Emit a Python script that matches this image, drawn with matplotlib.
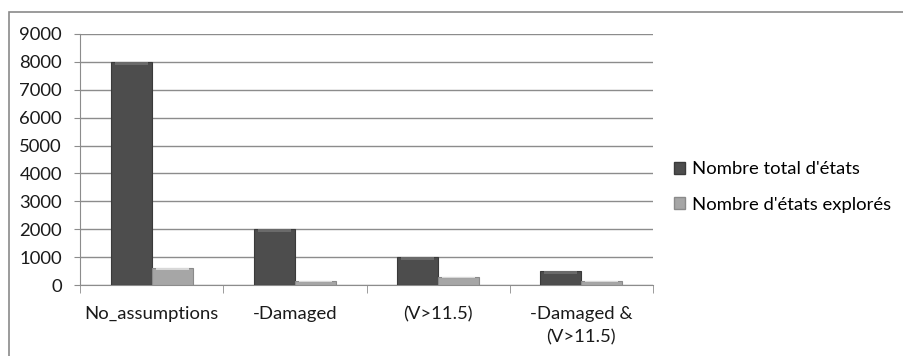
import matplotlib
matplotlib.use("Agg")
import matplotlib.pyplot as plt
from matplotlib.patches import Rectangle, Patch
import numpy as np

# data
categories = ["No_assumptions", "-Damaged", "(V>11.5)", "-Damaged &\n(V>11.5)"]
total_states = [8000, 2000, 1000, 500]
explored_states = [610, 150, 300, 150]
series_names = ["Nombre total d'états", "Nombre d'états explorés"]

plt.rcParams["font.family"] = ["Lato", "DejaVu Sans"]
FS = 13.3

fig = plt.figure(figsize=(9.04, 3.56), dpi=100)
fig.patch.set_facecolor("white")

# outer chart border
fig.patches.append(Rectangle((9/904, -0.1), 1.2, 1.1 - 12/356, transform=fig.transFigure,
                             fill=False, edgecolor="#8a8a8a", linewidth=1.2))

ax = fig.add_axes([80/904, 1 - 285/356, 573/904, 251/356])

x = np.arange(len(categories))
w = 0.287
dark = "#4d4d4d"
light = "#a6a6a6"
ax.bar(x - w/2, total_states, w, color=dark, edgecolor="#3a3a3a", linewidth=0.8, zorder=3)
ax.bar(x + w/2, explored_states, w, color=light, edgecolor="#8a8a8a", linewidth=0.8, zorder=3)
# bevel highlight on top of each bar
for xi, v in zip(x - w/2, total_states):
    ax.bar(xi, min(100, v), w * 0.8, bottom=v - min(100, v), color="#6a6a6a", linewidth=0, zorder=4)
for xi, v in zip(x + w/2, explored_states):
    ax.bar(xi, min(60, v), w * 0.8, bottom=v - min(60, v), color="#d8d8d8", linewidth=0, zorder=4)

ax.set_xlim(-0.5, len(categories) - 0.5)
ax.set_ylim(0, 9000)
ax.set_yticks(range(0, 9001, 1000))
ax.yaxis.grid(True, color="#8c8c8c", linewidth=1.0, zorder=0)
ax.set_axisbelow(True)

ax.set_xticks(x)
ax.set_xticklabels(categories, fontsize=FS, color="#1a1a1a", linespacing=1.55)
ax.tick_params(axis="x", length=0, pad=15)
ax.set_xticks(np.arange(-0.5, len(categories), 1.0), minor=True)
ax.tick_params(axis="x", which="minor", length=6, color="#8c8c8c", direction="out")
ax.tick_params(axis="y", labelsize=FS, length=4, color="#8c8c8c", labelcolor="#1a1a1a", pad=9)

for s in ["top", "right"]:
    ax.spines[s].set_visible(False)
ax.spines["left"].set_color("#8c8c8c")
ax.spines["bottom"].set_color("#8c8c8c")

handles = [Patch(facecolor=dark, edgecolor="#3a3a3a"), Patch(facecolor=light, edgecolor="#8a8a8a")]
fig.legend(handles, series_names, loc="center left", bbox_to_anchor=(674/904, 1 - 187/356),
           frameon=False, fontsize=FS, handlelength=0.6, handleheight=0.6,
           handletextpad=0.35, labelspacing=1.05, borderpad=0, borderaxespad=0)

fig.savefig("out.png", dpi=100, facecolor="white")
